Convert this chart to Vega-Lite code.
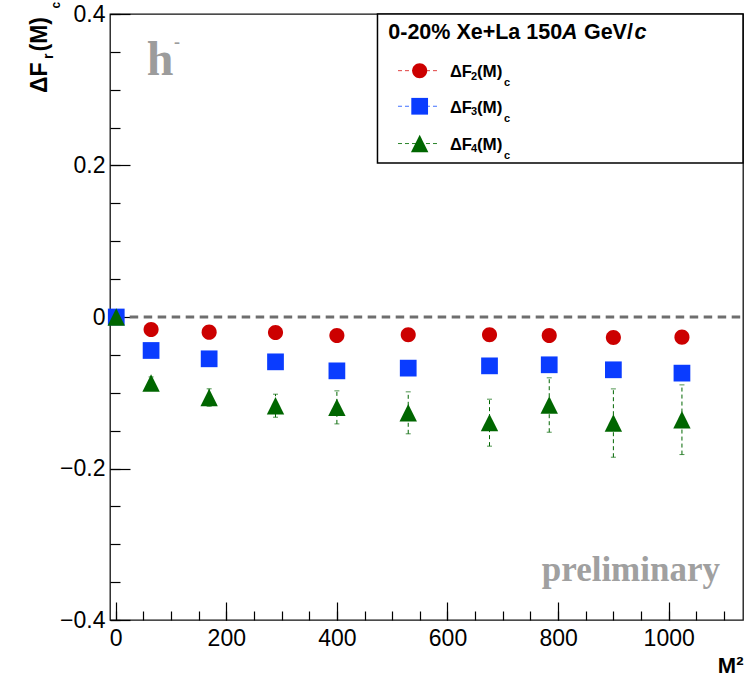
{
  "$schema": "https://vega.github.io/schema/vega-lite/v6.json",
  "autosize": "none",
  "width": 633,
  "height": 606,
  "padding": {"left": 110, "top": 14, "right": 7, "bottom": 56},
  "background": "#ffffff",
  "data": {"values": [{}]},
  "datasets": {
    "points": [
      {"M2": 1, "series": "ΔF2(M)c", "value": 0},
      {"M2": 64, "series": "ΔF2(M)c", "value": -0.0165},
      {"M2": 169, "series": "ΔF2(M)c", "value": -0.0200},
      {"M2": 289, "series": "ΔF2(M)c", "value": -0.0205},
      {"M2": 400, "series": "ΔF2(M)c", "value": -0.0244},
      {"M2": 529, "series": "ΔF2(M)c", "value": -0.0235},
      {"M2": 676, "series": "ΔF2(M)c", "value": -0.0235},
      {"M2": 784, "series": "ΔF2(M)c", "value": -0.0244},
      {"M2": 900, "series": "ΔF2(M)c", "value": -0.0271},
      {"M2": 1024, "series": "ΔF2(M)c", "value": -0.0266},
      {"M2": 1, "series": "ΔF3(M)c", "value": 0},
      {"M2": 64, "series": "ΔF3(M)c", "value": -0.0442},
      {"M2": 169, "series": "ΔF3(M)c", "value": -0.0552},
      {"M2": 289, "series": "ΔF3(M)c", "value": -0.0592},
      {"M2": 400, "series": "ΔF3(M)c", "value": -0.0711},
      {"M2": 529, "series": "ΔF3(M)c", "value": -0.0675},
      {"M2": 676, "series": "ΔF3(M)c", "value": -0.0645},
      {"M2": 784, "series": "ΔF3(M)c", "value": -0.0631},
      {"M2": 900, "series": "ΔF3(M)c", "value": -0.0697},
      {"M2": 1024, "series": "ΔF3(M)c", "value": -0.0741},
      {"M2": 1, "series": "ΔF4(M)c", "value": 0, "err": 0},
      {"M2": 64, "series": "ΔF4(M)c", "value": -0.0871, "err": 0.008},
      {"M2": 169, "series": "ΔF4(M)c", "value": -0.1063, "err": 0.0115},
      {"M2": 289, "series": "ΔF4(M)c", "value": -0.1171, "err": 0.0152},
      {"M2": 400, "series": "ΔF4(M)c", "value": -0.1193, "err": 0.0218},
      {"M2": 529, "series": "ΔF4(M)c", "value": -0.1265, "err": 0.0277},
      {"M2": 676, "series": "ΔF4(M)c", "value": -0.1395, "err": 0.031},
      {"M2": 784, "series": "ΔF4(M)c", "value": -0.1162, "err": 0.0359},
      {"M2": 900, "series": "ΔF4(M)c", "value": -0.140, "err": 0.0451},
      {"M2": 1024, "series": "ΔF4(M)c", "value": -0.1356, "err": 0.046}
    ]
  },
  "config": {
    "view": {"stroke": "#111111", "strokeWidth": 1.3},
    "axis": {"grid": false, "domain": false, "labelFont": "Liberation Sans", "labelFontSize": 23, "labelColor": "#000000", "tickColor": "#000000", "tickWidth": 1.2, "labelFlush": false, "labelOverlap": false, "labelBound": false}
  },
  "resolve": {"axis": {"x": "independent", "y": "independent"}},
  "layer": [
    {
      "layer": [
        {
          "mark": {"type": "rule", "color": "#6e6e6e", "strokeWidth": 3, "strokeDash": [8.5, 5.5]},
          "encoding": {"x": {"datum": 0}, "x2": {"datum": 1134.4}, "y": {"datum": 0}}
        },
        {
          "data": {"name": "points"},
          "transform": [{"filter": "datum.series === 'ΔF4(M)c'"}],
          "mark": {"type": "errorbar", "color": "#006600", "ticks": {"size": 5, "thickness": 1}, "rule": {"strokeDash": [4, 3], "strokeWidth": 1}},
          "encoding": {
            "x": {"field": "M2", "type": "quantitative"},
            "y": {"field": "value", "type": "quantitative"},
            "yError": {"field": "err"}
          }
        },
        {
          "data": {"name": "points"},
          "mark": {"type": "point", "filled": true, "opacity": 1, "strokeWidth": 0, "size": 280},
          "encoding": {
            "x": {"field": "M2", "type": "quantitative", "scale": {"domain": [-10.3, 1134.4], "nice": false, "zero": false},
              "axis": {"orient": "bottom", "values": [0, 200, 400, 600, 800, 1000], "format": "d",
                "tickSize": 18, "offset": -18, "labelPadding": 25, "labelBaseline": "alphabetic",
                "title": "M²", "titleFont": "Liberation Sans", "titleFontWeight": "bold", "titleFontSize": 22, "titleColor": "#000000",
                "titleX": 633, "titleY": 70, "titleAlign": "right", "titleBaseline": "alphabetic", "titleAnchor": "end"}},
            "y": {"field": "value", "type": "quantitative", "scale": {"domain": [-0.4, 0.4], "nice": false, "zero": false},
              "axis": {"orient": "left", "values": [-0.4, -0.2, 0, 0.2, 0.4],
                "labelExpr": "abs(datum.value) < 0.001 ? '0' : format(datum.value, '.1f')",
                "tickSize": 20, "offset": -20, "labelPadding": 5, "labelBaseline": "middle", "title": null}},
            "color": {"field": "series", "type": "nominal", "scale": {"domain": ["ΔF2(M)c", "ΔF3(M)c", "ΔF4(M)c"], "range": ["#cc0000", "#0a3cff", "#006600"]}, "legend": null},
            "shape": {"field": "series", "type": "nominal", "scale": {"domain": ["ΔF2(M)c", "ΔF3(M)c", "ΔF4(M)c"], "range": ["M0.9,0A0.9,0.9,0,1,1,-0.9,0A0.9,0.9,0,1,1,0.9,0Z", "M-1,-1H1V1H-1Z", "M0,-1.04L1.04,1.04L-1.04,1.04Z"]}, "legend": null}
          }
        },
        {
          "mark": {"type": "rect", "fill": "#ffffff", "stroke": "#000000", "strokeWidth": 1.5},
          "encoding": {"x": {"datum": 473.4}, "x2": {"datum": 1134.4}, "y": {"datum": 0.4}, "y2": {"datum": 0.2033}}
        },
        {"mark": {"type": "text", "text": "0-20% Xe+La 150", "font": "Liberation Sans", "fontWeight": "bold", "fontSize": 21.5, "align": "left", "baseline": "alphabetic", "color": "#000000"},
         "encoding": {"x": {"datum": 492.9}, "y": {"datum": 0.3666}}},
        {"mark": {"type": "text", "text": "A", "font": "Liberation Sans", "fontWeight": "bold", "fontStyle": "italic", "fontSize": 21.5, "align": "left", "baseline": "alphabetic", "color": "#000000"},
         "encoding": {"x": {"datum": 806.9}, "y": {"datum": 0.3666}}},
        {"mark": {"type": "text", "text": "GeV/", "font": "Liberation Sans", "fontWeight": "bold", "fontSize": 21.5, "align": "left", "baseline": "alphabetic", "color": "#000000"},
         "encoding": {"x": {"datum": 846.7}, "y": {"datum": 0.3666}}},
        {"mark": {"type": "text", "text": "c", "font": "Liberation Sans", "fontWeight": "bold", "fontStyle": "italic", "fontSize": 21.5, "align": "left", "baseline": "alphabetic", "color": "#000000"},
         "encoding": {"x": {"datum": 938.2}, "y": {"datum": 0.3666}}},

        {"mark": {"type": "rule", "color": "#e04040", "strokeWidth": 1, "strokeDash": [4, 3]},
         "encoding": {"x": {"datum": 510.5}, "x2": {"datum": 582.8}, "y": {"datum": 0.3252}}},
        {"mark": {"type": "rule", "color": "#4070ff", "strokeWidth": 1, "strokeDash": [4, 3]},
         "encoding": {"x": {"datum": 510.5}, "x2": {"datum": 582.8}, "y": {"datum": 0.2782}}},
        {"mark": {"type": "rule", "color": "#2a852a", "strokeWidth": 1, "strokeDash": [4, 3]},
         "encoding": {"x": {"datum": 510.5}, "x2": {"datum": 582.8}, "y": {"datum": 0.2290}}},
        {"mark": {"type": "point", "filled": true, "opacity": 1, "strokeWidth": 0, "size": 280},
         "encoding": {"x": {"datum": 549.7}, "y": {"datum": 0.3252}, "color": {"datum": "ΔF2(M)c"}, "shape": {"datum": "ΔF2(M)c"}}},
        {"mark": {"type": "point", "filled": true, "opacity": 1, "strokeWidth": 0, "size": 280},
         "encoding": {"x": {"datum": 549.7}, "y": {"datum": 0.2782}, "color": {"datum": "ΔF3(M)c"}, "shape": {"datum": "ΔF3(M)c"}}},
        {"mark": {"type": "point", "filled": true, "opacity": 1, "strokeWidth": 0, "size": 280},
         "encoding": {"x": {"datum": 549.7}, "y": {"datum": 0.2290}, "color": {"datum": "ΔF4(M)c"}, "shape": {"datum": "ΔF4(M)c"}}},

        {"mark": {"type": "text", "text": "ΔF", "font": "Liberation Sans", "fontWeight": "bold", "fontSize": 16.5, "align": "left", "baseline": "alphabetic", "color": "#000000"},
         "encoding": {"x": {"datum": 604.5}, "y": {"datum": 0.3166}}},
        {"mark": {"type": "text", "text": "2", "font": "Liberation Sans", "fontWeight": "bold", "fontSize": 11, "align": "left", "baseline": "alphabetic", "color": "#000000"},
         "encoding": {"x": {"datum": 642.5}, "y": {"datum": 0.3133}}},
        {"mark": {"type": "text", "text": "(M)", "font": "Liberation Sans", "fontWeight": "bold", "fontSize": 17, "align": "left", "baseline": "alphabetic", "color": "#000000"},
         "encoding": {"x": {"datum": 653.3}, "y": {"datum": 0.3166}}},
        {"mark": {"type": "text", "text": "c", "font": "Liberation Sans", "fontWeight": "bold", "fontSize": 11, "align": "left", "baseline": "alphabetic", "color": "#000000"},
         "encoding": {"x": {"datum": 702.2}, "y": {"datum": 0.3047}}},

        {"mark": {"type": "text", "text": "ΔF", "font": "Liberation Sans", "fontWeight": "bold", "fontSize": 16.5, "align": "left", "baseline": "alphabetic", "color": "#000000"},
         "encoding": {"x": {"datum": 604.5}, "y": {"datum": 0.2696}}},
        {"mark": {"type": "text", "text": "3", "font": "Liberation Sans", "fontWeight": "bold", "fontSize": 11, "align": "left", "baseline": "alphabetic", "color": "#000000"},
         "encoding": {"x": {"datum": 642.5}, "y": {"datum": 0.2663}}},
        {"mark": {"type": "text", "text": "(M)", "font": "Liberation Sans", "fontWeight": "bold", "fontSize": 17, "align": "left", "baseline": "alphabetic", "color": "#000000"},
         "encoding": {"x": {"datum": 653.3}, "y": {"datum": 0.2696}}},
        {"mark": {"type": "text", "text": "c", "font": "Liberation Sans", "fontWeight": "bold", "fontSize": 11, "align": "left", "baseline": "alphabetic", "color": "#000000"},
         "encoding": {"x": {"datum": 702.2}, "y": {"datum": 0.2577}}},

        {"mark": {"type": "text", "text": "ΔF", "font": "Liberation Sans", "fontWeight": "bold", "fontSize": 16.5, "align": "left", "baseline": "alphabetic", "color": "#000000"},
         "encoding": {"x": {"datum": 604.5}, "y": {"datum": 0.2205}}},
        {"mark": {"type": "text", "text": "4", "font": "Liberation Sans", "fontWeight": "bold", "fontSize": 11, "align": "left", "baseline": "alphabetic", "color": "#000000"},
         "encoding": {"x": {"datum": 642.5}, "y": {"datum": 0.2172}}},
        {"mark": {"type": "text", "text": "(M)", "font": "Liberation Sans", "fontWeight": "bold", "fontSize": 17, "align": "left", "baseline": "alphabetic", "color": "#000000"},
         "encoding": {"x": {"datum": 653.3}, "y": {"datum": 0.2205}}},
        {"mark": {"type": "text", "text": "c", "font": "Liberation Sans", "fontWeight": "bold", "fontSize": 11, "align": "left", "baseline": "alphabetic", "color": "#000000"},
         "encoding": {"x": {"datum": 702.2}, "y": {"datum": 0.2086}}},

        {"mark": {"type": "text", "text": "ΔF", "angle": 270, "font": "Liberation Sans", "fontWeight": "bold", "fontSize": 23, "align": "left", "baseline": "alphabetic", "color": "#000000"},
         "encoding": {"x": {"datum": -124.8}, "y": {"datum": 0.2957}}},
        {"mark": {"type": "text", "text": "r", "angle": 270, "font": "Liberation Sans", "fontWeight": "bold", "fontSize": 14, "align": "left", "baseline": "alphabetic", "color": "#000000"},
         "encoding": {"x": {"datum": -113.4}, "y": {"datum": 0.3406}}},
        {"mark": {"type": "text", "text": "(M)", "angle": 270, "font": "Liberation Sans", "fontWeight": "bold", "fontSize": 23, "align": "left", "baseline": "alphabetic", "color": "#000000"},
         "encoding": {"x": {"datum": -124.8}, "y": {"datum": 0.3505}}},
        {"mark": {"type": "text", "text": "c", "angle": 270, "font": "Liberation Sans", "fontWeight": "bold", "fontSize": 12, "align": "left", "baseline": "alphabetic", "color": "#000000"},
         "encoding": {"x": {"datum": -100.7}, "y": {"datum": 0.4073}}},

        {"mark": {"type": "text", "text": "h", "font": "Liberation Serif", "fontWeight": "bold", "fontSize": 48, "align": "left", "baseline": "alphabetic", "color": "#9c9c9c"},
         "encoding": {"x": {"datum": 56.1}, "y": {"datum": 0.3195}}},
        {"mark": {"type": "text", "text": "-", "font": "Liberation Serif", "fontWeight": "bold", "fontSize": 18, "align": "left", "baseline": "alphabetic", "color": "#9c9c9c"},
         "encoding": {"x": {"datum": 105.4}, "y": {"datum": 0.3551}}},
        {"mark": {"type": "text", "text": "preliminary", "font": "Liberation Serif", "fontWeight": "bold", "fontSize": 35, "align": "right", "baseline": "alphabetic", "color": "#a0a0a0"},
         "encoding": {"x": {"datum": 1092.8}, "y": {"datum": -0.3485}}}
      ]
    },
    {
      "data": {"name": "points"},
      "mark": {"type": "point", "opacity": 0},
      "encoding": {
        "x": {"field": "M2", "type": "quantitative",
          "axis": {"orient": "bottom", "values": [0,50,100,150,200,250,300,350,400,450,500,550,600,650,700,750,800,850,900,950,1000,1050,1100],
            "tickSize": 9, "offset": -9, "labels": false, "title": null}},
        "y": {"field": "value", "type": "quantitative",
          "axis": {"orient": "left", "values": [-0.4,-0.35,-0.3,-0.25,-0.2,-0.15,-0.1,-0.05,0,0.05,0.1,0.15,0.2,0.25,0.3,0.35,0.4],
            "tickSize": 10, "offset": -10, "labels": false, "title": null}}
      }
    }
  ]
}
